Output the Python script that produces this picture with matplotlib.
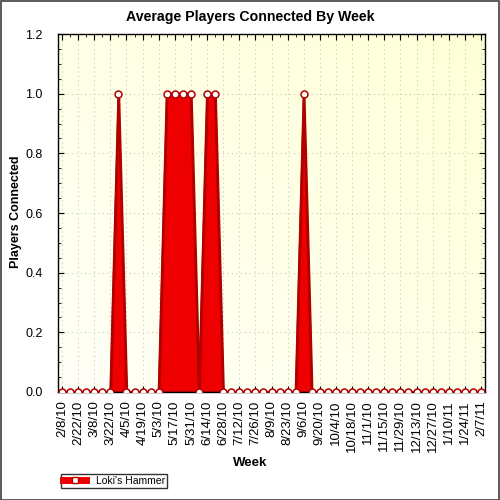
import numpy as np
import matplotlib
matplotlib.use("Agg")
import matplotlib.pyplot as plt
from matplotlib.patches import Rectangle
from matplotlib.lines import Line2D
import datetime as dt

plt.rcParams['font.family'] = ['Liberation Sans', 'DejaVu Sans']

# weekly data, 2/8/10 .. 2/7/11
start = dt.date(2010, 2, 8)
weeks = [start + dt.timedelta(days=7 * i) for i in range(53)]
week_labels = ["%d/%d/%s" % (d.month, d.day, str(d.year)[2:]) for d in weeks]
players = [0, 0, 0, 0, 0, 0, 0, 1, 0, 0,
           0, 0, 0, 1, 1, 1, 1, 0, 1, 1,
           0, 0, 0, 0, 0, 0, 0, 0, 0, 0,
           1, 0, 0, 0, 0, 0, 0, 0, 0, 0,
           0, 0, 0, 0, 0, 0, 0, 0, 0, 0,
           0, 0, 0]

x = np.arange(len(players))
y = np.array(players, dtype=float)

fig = plt.figure(figsize=(5, 5), dpi=100)
fig.patch.set_facecolor('white')
ax = fig.add_axes([0.116, 0.216, 0.854, 0.716])

# yellowish gradient background
g = np.linspace(0, 1, 200)
gx, gy = np.meshgrid(g, g)
grad = (gx + gy) / 2
c0 = np.array([1.0, 1.0, 0.97])
c1 = np.array([1.0, 1.0, 0.84])
img = c0[None, None, :] * (1 - grad[..., None]) + c1[None, None, :] * grad[..., None]
ax.imshow(img, extent=(-0.5, 52.5, 0, 1.2), origin='lower', aspect='auto', zorder=0)

ax.fill_between(x, 0, y, color='#EE0000', edgecolor='#B00000', lw=1.8, zorder=2)
ax.plot(x, y, color='#B00000', lw=1.5, zorder=3,
        marker='o', markersize=5, markerfacecolor='white', markeredgecolor='#B00000',
        markeredgewidth=1.1)

ax.set_xlim(-0.5, 52.5)
ax.set_ylim(0, 1.2)
ax.set_xticks(x[::2])
ax.set_xticklabels(week_labels[::2], rotation=90, fontsize=9.5)
ax.set_xticks(x, minor=True)
ax.set_yticks(np.arange(0, 1.21, 0.2))
ax.set_yticklabels(["%.1f" % v for v in np.arange(0, 1.21, 0.2)], fontsize=9)
ax.set_yticks(np.arange(0, 1.21, 0.05), minor=True)
ax.tick_params(which='both', direction='in', top=True, right=True, color='black')
ax.tick_params(which='major', length=4)
ax.tick_params(which='minor', length=2)
ax.tick_params(axis='y', pad=11)
ax.tick_params(axis='x', pad=6)
ax.grid(True, which='major', color='#C8C8C8', linestyle=(0, (1, 3)), lw=0.8)
for s in ax.spines.values():
    s.set_color('black')
    s.set_linewidth(1)

fig.text(0.5, 0.966, "Average Players Connected By Week", fontsize=10.2,
         fontweight='bold', ha='center', va='center')
fig.text(0.5, 0.074, "Week", fontsize=9.5, fontweight='bold', ha='center', va='center')
fig.text(0.032, 0.576, "Players Connected", fontsize=9, fontweight='bold',
         rotation=90, ha='center', va='center')

# legend box bottom left
h = Line2D([0], [0], color='#EE0000', lw=5, marker='s', markersize=5,
           markerfacecolor='white', markeredgecolor='#B00000')
fig.legend([h], ["Loki's Hammer"], loc='lower left', bbox_to_anchor=(0.112, 0.014),
           fontsize=7.5, frameon=True, fancybox=False, edgecolor='black',
           borderpad=0.2, handlelength=2.2, handletextpad=0.9)

fig.patches.append(Rectangle((0.001, 0.001), 0.997, 0.997, transform=fig.transFigure,
                             fill=False, edgecolor='#404040', lw=1.2))

fig.savefig("out.png", dpi=100)
